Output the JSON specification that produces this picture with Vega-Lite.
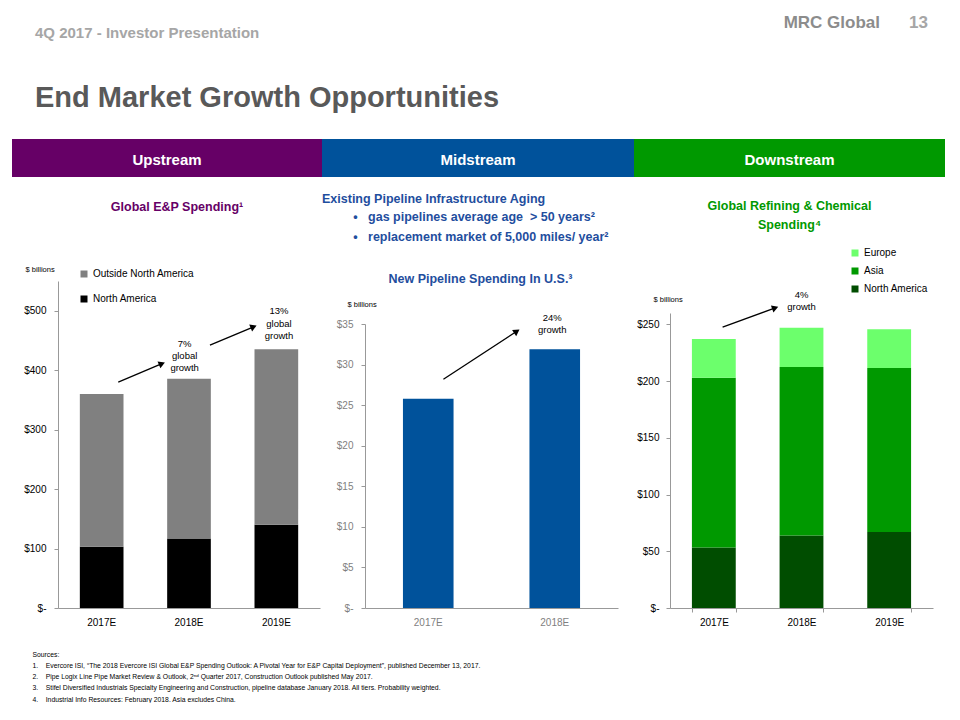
{
  "$schema": "https://vega.github.io/schema/vega-lite/v6.json",
  "padding": {"left": 12, "top": 14, "right": 0, "bottom": 0},
  "background": "white",
  "columns": 3,
  "bounds": "flush",
  "spacing": {"row": 41, "column": 0},
  "resolve": {"scale": {"color": "independent"}, "legend": {"color": "independent"}},
  "config": {
    "font": "Liberation Sans, Arial, sans-serif",
    "view": {"stroke": null},
    "axis": {"grid": false, "domainColor": "#999999", "tickColor": "#999999", "labelFontSize": 10, "labelColor": "#000000", "labelFontWeight": "normal"},
    "legend": {"labelFontSize": 10, "labelColor": "#000000", "symbolType": "square", "symbolSize": 49, "symbolStrokeWidth": 0, "padding": 0, "labelOffset": 4},
    "title": {"fontWeight": "bold"}
  },
  "concat": [
    {
      "width": 310, "height": 38,
      "view": {"fill": "#660066", "stroke": null},
      "title": {"text": "4Q 2017 - Investor Presentation", "subtitle": "End Market Growth Opportunities", "anchor": "start", "frame": "group", "dx": 23, "fontSize": 15, "fontWeight": "bold", "color": "#A6A6A6", "subtitleFontSize": 29, "subtitleFontWeight": "bold", "subtitleColor": "#595959", "subtitlePadding": 43, "offset": 26},
      "data": {"values": [{"label": "Upstream"}]},
      "mark": {"type": "text", "color": "#FFFFFF", "fontSize": 15, "fontWeight": "bold", "dy": 2},
      "encoding": {"text": {"field": "label", "type": "nominal"}}
    },
    {
      "width": 312, "height": 38,
      "view": {"fill": "#00529B", "stroke": null},
      "title": {"text": "MRC Global", "anchor": "end", "frame": "group", "dx": 246, "fontSize": 17, "fontWeight": "bold", "color": "#8C8C8C", "offset": 107},
      "data": {"values": [{"label": "Midstream"}]},
      "mark": {"type": "text", "color": "#FFFFFF", "fontSize": 15, "fontWeight": "bold", "dy": 2},
      "encoding": {"text": {"field": "label", "type": "nominal"}}
    },
    {
      "width": 311, "height": 38,
      "view": {"fill": "#009900", "stroke": null},
      "title": {"text": "13", "anchor": "end", "frame": "group", "dx": -17, "fontSize": 17, "fontWeight": "bold", "color": "#A6A6A6", "offset": 107},
      "data": {"values": [{"label": "Downstream"}]},
      "mark": {"type": "text", "color": "#FFFFFF", "fontSize": 15, "fontWeight": "bold", "dy": 2},
      "encoding": {"text": {"field": "label", "type": "nominal"}}
    },
    {
      "width": 310, "height": 390,
      "title": {"text": "Global E&P Spending¹", "anchor": "middle", "frame": "group", "dx": 10, "fontSize": 12.5, "fontWeight": "bold", "color": "#660066", "offset": 5},
      "resolve": {"scale": {"x": "independent"}, "axis": {"x": "independent", "y": "shared"}},
      "layer": [
        {
          "data": {"values": [
            {"year": "2017E", "region": "North America", "value": 103},
            {"year": "2017E", "region": "Outside North America", "value": 257},
            {"year": "2018E", "region": "North America", "value": 117},
            {"year": "2018E", "region": "Outside North America", "value": 268.5},
            {"year": "2019E", "region": "North America", "value": 140},
            {"year": "2019E", "region": "Outside North America", "value": 295}
          ]},
          "mark": {"type": "bar"},
          "encoding": {
            "x": {"field": "year", "type": "nominal", "scale": {"range": [46, 308], "paddingInner": 0.5, "paddingOuter": 0.25},
              "axis": {"labelAngle": 0, "ticks": false, "labelPadding": 9,
                "title": ["Sources:", "1.\u00a0\u00a0\u00a0\u00a0Evercore ISI, “The 2018 Evercore ISI Global E&P Spending Outlook: A Pivotal Year for E&P Capital Deployment”, published December 13, 2017.", "2.\u00a0\u00a0\u00a0\u00a0Pipe Logix Line Pipe Market Review & Outlook, 2ⁿᵈ Quarter 2017, Construction Outlook published May 2017.", "3.\u00a0\u00a0\u00a0\u00a0Stifel Diversified Industrials Specialty Engineering and Construction, pipeline database January 2018. All tiers. Probability weighted.", "4.\u00a0\u00a0\u00a0\u00a0Industrial Info Resources: February 2018. Asia excludes China."],
                "titleX": 20, "titleY": 43, "titleAlign": "left", "titleBaseline": "top", "titleFontSize": 6.8, "titleFontWeight": "normal", "titleColor": "#000000", "titleLineHeight": 11.3}},
            "y": {"field": "value", "type": "quantitative", "stack": "zero", "scale": {"domain": [0, 550], "range": [390, 63], "nice": false},
              "axis": {"values": [0, 100, 200, 300, 400, 500], "labelExpr": "datum.value == 0 ? '$-' : '$' + datum.value", "offset": -46, "tickSize": 4, "labelPadding": 8,
                "title": "$ billions", "titleAngle": 0, "titleAlign": "left", "titleBaseline": "middle", "titleX": -33, "titleY": 51, "titleFontSize": 7.5, "titleFontWeight": "normal", "titleColor": "#000000"}},
            "color": {"field": "region", "type": "nominal", "scale": {"domain": ["Outside North America", "North America"], "range": ["#808080", "#000000"]},
              "legend": {"orient": "none", "legendX": 67, "legendY": 51, "title": null, "rowPadding": 15}},
            "order": {"field": "region", "sort": "ascending"}
          }
        },
        {
          "data": {"values": [{"ax": 0.69, "ay": 380, "bx": 1.19, "by": 411}, {"ax": 1.74, "ay": 442, "bx": 2.24, "by": 473}]},
          "mark": {"type": "rule", "color": "#000000", "strokeWidth": 1.3},
          "encoding": {
            "x": {"field": "ax", "type": "quantitative", "scale": {"domain": [0, 3], "range": [46, 308]}, "axis": null},
            "y": {"field": "ay", "type": "quantitative", "scale": {"domain": [0, 550], "range": [390, 63], "nice": false}},
            "x2": {"field": "bx"},
            "y2": {"field": "by"}
          }
        },
        {
          "data": {"values": [{"bx": 1.19, "by": 411}, {"bx": 2.24, "by": 473}]},
          "mark": {"type": "point", "shape": "triangle-right", "filled": true, "color": "#000000", "size": 55, "angle": -23, "opacity": 1},
          "encoding": {
            "x": {"field": "bx", "type": "quantitative", "scale": {"domain": [0, 3], "range": [46, 308]}, "axis": null},
            "y": {"field": "by", "type": "quantitative", "scale": {"domain": [0, 550], "range": [390, 63], "nice": false}}
          }
        },
        {
          "data": {"values": [{"tx": 1.45, "ty": 444, "label": "7%\nglobal\ngrowth"}, {"tx": 2.53, "ty": 499, "label": "13%\nglobal\ngrowth"}]},
          "mark": {"type": "text", "fontSize": 9.5, "lineHeight": 12.2, "lineBreak": "\n", "align": "center", "baseline": "middle", "color": "#000000"},
          "encoding": {
            "x": {"field": "tx", "type": "quantitative", "scale": {"domain": [0, 3], "range": [46, 308]}, "axis": null},
            "y": {"field": "ty", "type": "quantitative", "scale": {"domain": [0, 550], "range": [390, 63], "nice": false}},
            "text": {"field": "label", "type": "nominal"}
          }
        }
      ]
    },
    {
      "width": 312, "height": 390,
      "title": {"text": "Existing Pipeline Infrastructure Aging", "subtitle": ["\u200b\u00a0\u00a0\u00a0\u00a0\u00a0\u00a0\u00a0\u00a0\u00a0•\u00a0\u00a0\u00a0gas pipelines average age \u00a0> 50 years²", "\u200b\u00a0\u00a0\u00a0\u00a0\u00a0\u00a0\u00a0\u00a0\u00a0•\u00a0\u00a0\u00a0replacement market of 5,000 miles/ year²"], "anchor": "start", "frame": "group", "dx": 0, "fontSize": 12.5, "fontWeight": "bold", "color": "#1F4E9E", "subtitleFontSize": 12.5, "subtitleFontWeight": "bold", "subtitleColor": "#1F4E9E", "subtitleLineHeight": 20, "subtitlePadding": 5, "offset": -25},
      "resolve": {"scale": {"x": "independent"}, "axis": {"x": "independent", "y": "shared"}},
      "layer": [
        {
          "data": {"values": [
            {"year": "2017E", "value": 25.8},
            {"year": "2018E", "value": 31.9}
          ]},
          "mark": {"type": "bar", "color": "#00529B"},
          "encoding": {
            "x": {"field": "year", "type": "nominal", "scale": {"range": [43, 296], "paddingInner": 0.6, "paddingOuter": 0.3},
              "axis": {"labelAngle": 0, "ticks": false, "labelPadding": 9, "labelColor": "#7F7F7F",
                "title": "New Pipeline Spending In U.S.³", "titleX": 158, "titleY": -330, "titleAlign": "center", "titleBaseline": "middle", "titleFontSize": 12.5, "titleFontWeight": "bold", "titleColor": "#1F4E9E"}},
            "y": {"field": "value", "type": "quantitative", "scale": {"domain": [0, 35], "range": [390, 106], "nice": false},
              "axis": {"values": [0, 5, 10, 15, 20, 25, 30, 35], "labelExpr": "datum.value == 0 ? '$-' : '$' + datum.value", "offset": -43, "tickSize": 4, "labelPadding": 8, "labelColor": "#7F7F7F",
                "title": "$ billions", "titleAngle": 0, "titleAlign": "left", "titleBaseline": "middle", "titleX": -18, "titleY": 86, "titleFontSize": 7.5, "titleFontWeight": "normal", "titleColor": "#000000"}}
          }
        },
        {
          "data": {"values": [{"ax": 0.62, "ay": 28.2, "bx": 1.2, "by": 34.1}]},
          "mark": {"type": "rule", "color": "#000000", "strokeWidth": 1.3},
          "encoding": {
            "x": {"field": "ax", "type": "quantitative", "scale": {"domain": [0, 2], "range": [43, 296]}, "axis": null},
            "y": {"field": "ay", "type": "quantitative", "scale": {"domain": [0, 35], "range": [390, 106], "nice": false}},
            "x2": {"field": "bx"},
            "y2": {"field": "by"}
          }
        },
        {
          "data": {"values": [{"bx": 1.2, "by": 34.1}]},
          "mark": {"type": "point", "shape": "triangle-right", "filled": true, "color": "#000000", "size": 55, "angle": -34, "opacity": 1},
          "encoding": {
            "x": {"field": "bx", "type": "quantitative", "scale": {"domain": [0, 2], "range": [43, 296]}, "axis": null},
            "y": {"field": "by", "type": "quantitative", "scale": {"domain": [0, 35], "range": [390, 106], "nice": false}}
          }
        },
        {
          "data": {"values": [{"tx": 1.48, "ty": 35.8, "label": "24%\ngrowth"}]},
          "mark": {"type": "text", "fontSize": 9.5, "lineHeight": 12.2, "lineBreak": "\n", "align": "center", "baseline": "middle", "color": "#000000"},
          "encoding": {
            "x": {"field": "tx", "type": "quantitative", "scale": {"domain": [0, 2], "range": [43, 296]}, "axis": null},
            "y": {"field": "ty", "type": "quantitative", "scale": {"domain": [0, 35], "range": [390, 106], "nice": false}},
            "text": {"field": "label", "type": "nominal"}
          }
        }
      ]
    },
    {
      "width": 311, "height": 390,
      "title": {"text": ["Global Refining & Chemical", "Spending⁴"], "anchor": "middle", "frame": "group", "fontSize": 12.5, "fontWeight": "bold", "color": "#009900", "lineHeight": 19, "offset": -13},
      "resolve": {"scale": {"x": "independent"}, "axis": {"x": "independent", "y": "shared"}},
      "layer": [
        {
          "data": {"values": [
            {"year": "2017E", "region": "North America", "value": 53.3},
            {"year": "2017E", "region": "Asia", "value": 149.7},
            {"year": "2017E", "region": "Europe", "value": 34},
            {"year": "2018E", "region": "North America", "value": 64},
            {"year": "2018E", "region": "Asia", "value": 148.4},
            {"year": "2018E", "region": "Europe", "value": 34.6},
            {"year": "2019E", "region": "North America", "value": 67},
            {"year": "2019E", "region": "Asia", "value": 144.5},
            {"year": "2019E", "region": "Europe", "value": 34.1}
          ]},
          "transform": [{"calculate": "indexof(['North America', 'Asia', 'Europe'], datum.region)", "as": "stackOrder"}],
          "mark": {"type": "bar"},
          "encoding": {
            "x": {"field": "year", "type": "nominal", "scale": {"range": [36, 299], "paddingInner": 0.5, "paddingOuter": 0.25},
              "axis": {"labelAngle": 0, "ticks": true, "tickBand": "extent", "tickSize": 4, "labelPadding": 5, "title": null}},
            "y": {"field": "value", "type": "quantitative", "stack": "zero", "scale": {"domain": [0, 260], "range": [390, 95], "nice": false},
              "axis": {"values": [0, 50, 100, 150, 200, 250], "labelExpr": "datum.value == 0 ? '$-' : '$' + datum.value", "offset": -36, "tickSize": 4, "labelPadding": 7,
                "title": "$ billions", "titleAngle": 0, "titleAlign": "left", "titleBaseline": "middle", "titleX": -17, "titleY": 81, "titleFontSize": 7.5, "titleFontWeight": "normal", "titleColor": "#000000"}},
            "color": {"field": "region", "type": "nominal", "scale": {"domain": ["Europe", "Asia", "North America"], "range": ["#6CFF6C", "#009900", "#004D00"]},
              "legend": {"orient": "none", "legendX": 216, "legendY": 30, "title": null, "rowPadding": 8}},
            "order": {"field": "stackOrder", "type": "quantitative", "sort": "ascending"}
          }
        },
        {
          "data": {"values": [{"ax": 0.6, "ay": 247.5, "bx": 1.2, "by": 264.5}]},
          "mark": {"type": "rule", "color": "#000000", "strokeWidth": 1.3},
          "encoding": {
            "x": {"field": "ax", "type": "quantitative", "scale": {"domain": [0, 3], "range": [36, 299]}, "axis": null},
            "y": {"field": "ay", "type": "quantitative", "scale": {"domain": [0, 260], "range": [390, 95], "nice": false}},
            "x2": {"field": "bx"},
            "y2": {"field": "by"}
          }
        },
        {
          "data": {"values": [{"bx": 1.2, "by": 264.5}]},
          "mark": {"type": "point", "shape": "triangle-right", "filled": true, "color": "#000000", "size": 55, "angle": -20, "opacity": 1},
          "encoding": {
            "x": {"field": "bx", "type": "quantitative", "scale": {"domain": [0, 3], "range": [36, 299]}, "axis": null},
            "y": {"field": "by", "type": "quantitative", "scale": {"domain": [0, 260], "range": [390, 95], "nice": false}}
          }
        },
        {
          "data": {"values": [{"tx": 1.5, "ty": 276, "label": "4%\ngrowth"}]},
          "mark": {"type": "text", "fontSize": 9.5, "lineHeight": 12.2, "lineBreak": "\n", "align": "center", "baseline": "middle", "color": "#000000"},
          "encoding": {
            "x": {"field": "tx", "type": "quantitative", "scale": {"domain": [0, 3], "range": [36, 299]}, "axis": null},
            "y": {"field": "ty", "type": "quantitative", "scale": {"domain": [0, 260], "range": [390, 95], "nice": false}},
            "text": {"field": "label", "type": "nominal"}
          }
        }
      ]
    }
  ]
}
